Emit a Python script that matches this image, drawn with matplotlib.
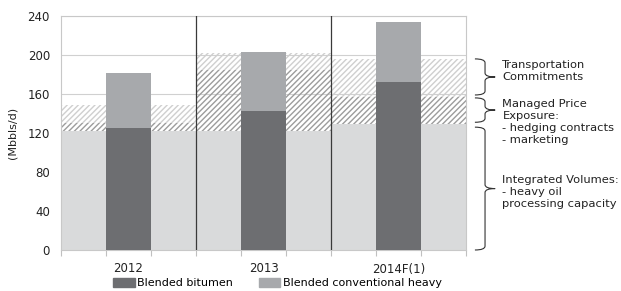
import numpy as np
import matplotlib
matplotlib.use("Agg")
from matplotlib import pyplot as plt
from matplotlib.path import Path
from matplotlib.patches import PathPatch, Patch
from matplotlib.transforms import blended_transform_factory

years = ['2012', '2013', '2014F(1)']
bitumen = [125, 143, 172]
conventional = [57, 60, 62]
integrated = [122, 122, 129]
managed = [8, 63, 28]
transport = [19, 17, 39]

c_bit = '#6d6e71'
c_conv = '#a7a9ac'
c_base = '#d9dadb'

plt.rcParams['font.family'] = 'DejaVu Sans'
plt.rcParams['hatch.linewidth'] = 1.0

fig = plt.figure(figsize=(6.21, 2.91), dpi=100)
ax = fig.add_axes([61/621, 1-250/291, 405/621, 234/291])

slots = np.arange(9)
base = np.repeat(integrated, 3)
mng = np.repeat(managed, 3)
trn = np.repeat(transport, 3)

# background layers
ax.bar(slots, base, width=1.0, color=c_base, linewidth=0, zorder=1)
ax.bar(slots, mng, width=1.0, bottom=base, facecolor='none', edgecolor='#9c9c9c',
       hatch='//////', linewidth=0, zorder=1)
ax.bar(slots, trn, width=1.0, bottom=base + mng, facecolor='none', edgecolor='#cfcfcf',
       hatch='//////', linewidth=0, zorder=1)

# main bars
xb = np.arange(len(years)) * 3 + 1
ax.bar(xb, bitumen, width=1.0, color=c_bit, linewidth=0, zorder=3)
ax.bar(xb, conventional, width=1.0, bottom=bitumen, color=c_conv, linewidth=0, zorder=3)

# separators between years
for xs in [2.5, 5.5]:
    ax.plot([xs, xs], [0, 240], color='#3a3a3a', lw=0.9, zorder=4)

ax.set_xlim(-0.5, 8.5)
ax.set_ylim(0, 240)
ax.set_yticks(np.arange(0, 241, 40))
ax.yaxis.grid(True, color='#d0d0d0', lw=0.8, zorder=0)
ax.set_axisbelow(True)
ax.set_xticks(xb)
ax.set_xticklabels(years)
ax.set_xticks(np.arange(-0.5, 9, 1), minor=True)
ax.tick_params(axis='x', which='major', length=0, pad=9, labelsize=8.5, colors='#222222')
ax.tick_params(axis='x', which='minor', length=4, color='#c0c0c0', width=0.8)
ax.tick_params(axis='y', length=0, pad=8, labelsize=8.5, colors='#222222')
for s in ax.spines.values():
    s.set_color('#c8c8c8')
    s.set_linewidth(0.8)
ax.set_ylabel('(Mbbls/d)', fontsize=8, color='#222222', labelpad=7)

# braces on the right
tr = blended_transform_factory(ax.transAxes, ax.transData)

def brace(y0, y1, xa=1.022, xm=1.047, xc=1.072, r=4):
    mid = (y0 + y1) / 2
    verts = [(xa, y1), (xm, y1), (xm, y1 - r), (xm, mid + r), (xm, mid), (xc, mid),
             (xm, mid), (xm, mid - r), (xm, y0 + r), (xm, y0), (xa, y0)]
    codes = [Path.MOVETO, Path.CURVE3, Path.CURVE3, Path.LINETO, Path.CURVE3, Path.CURVE3,
             Path.CURVE3, Path.CURVE3, Path.LINETO, Path.CURVE3, Path.CURVE3]
    ax.add_patch(PathPatch(Path(verts, codes), transform=tr, fill=False,
                           edgecolor='#333333', lw=0.8, clip_on=False))

top14 = integrated[2] + managed[2] + transport[2]
mid14 = integrated[2] + managed[2]
brace(mid14 + 2, top14)
brace(integrated[2] + 2, mid14 - 1)
brace(0, integrated[2] - 3)

tk = dict(transform=tr, fontsize=8.25, color='#222222', va='center', ha='left',
          linespacing=1.25)
ax.text(1.09, 184, 'Transportation\nCommitments', **tk)
ax.text(1.09, 131, 'Managed Price\nExposure:\n- hedging contracts\n- marketing', **tk)
ax.text(1.09, 59, 'Integrated Volumes:\n- heavy oil\nprocessing capacity', **tk)

handles = [Patch(color=c_bit, label='Blended bitumen'),
           Patch(color=c_conv, label='Blended conventional heavy')]
fig.legend(handles=handles, loc='center', bbox_to_anchor=(0.447, 0.026), ncol=2,
           frameon=False, fontsize=8, handlelength=1.9, handleheight=0.8,
           handletextpad=0.2, columnspacing=2.4, borderpad=0)

fig.savefig('out.png', dpi=100)
